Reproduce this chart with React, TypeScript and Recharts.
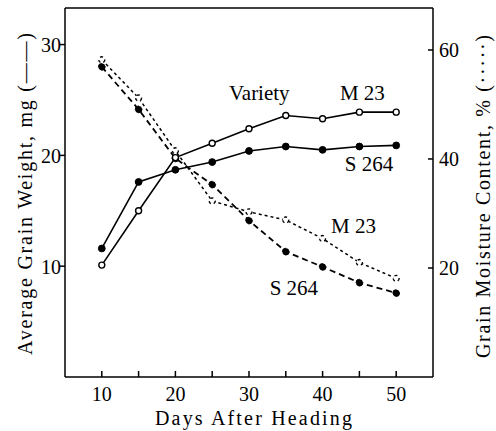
import React from "react";
import { LineChart, Line, XAxis, YAxis, ReferenceDot } from "recharts";

const days = [10, 15, 20, 25, 30, 35, 40, 45, 50];
const m23Weight = [10.1, 15.0, 19.8, 21.1, 22.4, 23.6, 23.3, 23.9, 23.9];
const s264Weight = [11.6, 17.6, 18.7, 19.4, 20.4, 20.8, 20.5, 20.8, 20.9];
const m23Moisture = [58.2, 51.2, 41.5, 32.3, 30.3, 28.8, 25.4, 21.0, 18.1];
const s264Moisture = [56.9, 49.1, 40.1, 35.3, 28.7, 23.0, 20.2, 17.3, 15.4];

const xTicks = [10, 15, 20, 25, 30, 35, 40, 45, 50];
const xTickLabels = ["10", "", "20", "", "30", "", "40", "", "50"];
const leftTicks = [10, 20, 30];
const rightTicks = [20, 40, 60];

const rows = days.map((d, i) => ({
  day: d,
  m23W: m23Weight[i],
  s264W: s264Weight[i],
  m23M: m23Moisture[i],
  s264M: s264Moisture[i],
}));

const FONT = "'Liberation Serif', 'DejaVu Serif', serif";

const XTick = (p: any) => {
  const { x, y, payload } = p;
  const idx = xTicks.indexOf(payload.value);
  const lab = idx >= 0 ? xTickLabels[idx] : "";
  return (
    <g>
      <line x1={x} y1={y} x2={x} y2={y - 6} stroke="#000" strokeWidth={1.5} />
      {lab && (
        <text x={x} y={y + 24} textAnchor="middle" fontFamily={FONT} fontSize={20} fill="#000">
          {lab}
        </text>
      )}
    </g>
  );
};

const LeftTick = (p: any) => {
  const { x, y, payload } = p;
  return (
    <g>
      <line x1={x - 5} y1={y} x2={x} y2={y} stroke="#000" strokeWidth={1.5} />
      <text x={x - 4} y={y + 7.5} textAnchor="end" fontFamily={FONT} fontSize={20} fill="#000">
        {payload.value}
      </text>
    </g>
  );
};

const RightTick = (p: any) => {
  const { x, y, payload } = p;
  return (
    <g>
      <line x1={x - 5} y1={y} x2={x} y2={y} stroke="#000" strokeWidth={1.5} />
      <text x={x + 6} y={y + 7.5} textAnchor="start" fontFamily={FONT} fontSize={20} fill="#000">
        {payload.value}
      </text>
    </g>
  );
};

const openDot = { r: 3, fill: "#fff", stroke: "#000", strokeWidth: 1.4 };
const filledDot = { r: 3.4, fill: "#000", stroke: "#000", strokeWidth: 1 };

const textLabel = (txt: string) => (props: any) => {
  const vb = props.viewBox || {};
  const cx = vb.cx !== undefined ? vb.cx : (vb.x || 0) + (vb.width || 0) / 2;
  const cy = vb.cy !== undefined ? vb.cy : (vb.y || 0) + (vb.height || 0) / 2;
  return (
    <text x={cx} y={cy} textAnchor="middle" fontFamily={FONT} fontSize={21} fill="#000">
      {txt}
    </text>
  );
};

const leftTitle = (props: any) => {
  const vb = props.viewBox || { x: 0, y: 8, width: 65, height: 369 };
  const cx = vb.x + 25;
  const cy = vb.y + vb.height / 2 + 1.5;
  return (
    <text
      x={cx}
      y={cy}
      transform={`rotate(-90, ${cx}, ${cy})`}
      textAnchor="middle"
      dominantBaseline="central"
      fontFamily={FONT}
      fontSize={20}
      fill="#000"
      textLength={322}
      lengthAdjust="spacing"
    >
      Average Grain Weight, mg (——)
    </text>
  );
};

const rightTitle = (props: any) => {
  const vb = props.viewBox || { x: 433, y: 8, width: 63, height: 369 };
  const cx = vb.x + 50;
  const cy = vb.y + vb.height / 2 + 4;
  return (
    <text
      x={cx}
      y={cy}
      transform={`rotate(-90, ${cx}, ${cy})`}
      textAnchor="middle"
      dominantBaseline="central"
      fontFamily={FONT}
      fontSize={20}
      fill="#000"
      textLength={323}
      lengthAdjust="spacing"
    >
      Grain Moisture Content, % (·····)
    </text>
  );
};

const bottomTitle = (props: any) => {
  const vb = props.viewBox || { x: 65, y: 377, width: 368, height: 54 };
  const cx = vb.x + vb.width / 2 + 4.5;
  const cy = vb.y + 48;
  return (
    <text
      x={cx}
      y={cy}
      textAnchor="middle"
      fontFamily={FONT}
      fontSize={20}
      fill="#000"
      textLength={197}
      lengthAdjust="spacing"
    >
      Days After Heading
    </text>
  );
};

export default function App() {
  return (
    <div style={{ position: "absolute", left: 0, top: 0, width: 496, height: 431, background: "#fff" }}>
      <LineChart width={496} height={431} data={rows} margin={{ top: 0, right: 0, bottom: 0, left: 0 }}>
        <XAxis
          xAxisId="top"
          orientation="top"
          dataKey="day"
          type="number"
          domain={[5, 55]}
          height={8}
          tick={false}
          tickLine={false}
          axisLine={{ stroke: "#000", strokeWidth: 1.5 }}
        />
        <XAxis
          dataKey="day"
          type="number"
          domain={[5, 55]}
          ticks={xTicks}
          height={54}
          tickSize={0}
          tickMargin={0}
          tickLine={false}
          tick={XTick}
          interval={0}
          axisLine={{ stroke: "#000", strokeWidth: 1.5 }}
          label={{ content: bottomTitle }}
        />
        <YAxis
          yAxisId="left"
          orientation="left"
          type="number"
          domain={[0, 33.3]}
          ticks={leftTicks}
          width={65}
          tickSize={0}
          tickMargin={0}
          tickLine={false}
          tick={LeftTick}
          interval={0}
          axisLine={{ stroke: "#000", strokeWidth: 1.5 }}
          label={{ content: leftTitle }}
        />
        <YAxis
          yAxisId="right"
          orientation="right"
          type="number"
          domain={[0, 67.7]}
          ticks={rightTicks}
          width={63}
          tickSize={0}
          tickMargin={0}
          tickLine={false}
          tick={RightTick}
          interval={0}
          axisLine={{ stroke: "#000", strokeWidth: 1.5 }}
          label={{ content: rightTitle }}
        />
        <Line
          yAxisId="right"
          dataKey="m23M"
          stroke="#000"
          strokeWidth={1.5}
          strokeDasharray="3 3"
          dot={openDot}
          isAnimationActive={false}
        />
        <Line
          yAxisId="right"
          dataKey="s264M"
          stroke="#000"
          strokeWidth={1.8}
          strokeDasharray="6 4"
          dot={filledDot}
          isAnimationActive={false}
        />
        <Line
          yAxisId="left"
          dataKey="m23W"
          stroke="#000"
          strokeWidth={1.6}
          dot={openDot}
          isAnimationActive={false}
        />
        <Line
          yAxisId="left"
          dataKey="s264W"
          stroke="#000"
          strokeWidth={1.6}
          dot={filledDot}
          isAnimationActive={false}
        />
        <ReferenceDot yAxisId="left" x={31.4} y={25.0} r={0} fill="none" stroke="none" label={{ content: textLabel("Variety") }} />
        <ReferenceDot yAxisId="left" x={45.4} y={25.0} r={0} fill="none" stroke="none" label={{ content: textLabel("M 23") }} />
        <ReferenceDot yAxisId="left" x={46.3} y={18.55} r={0} fill="none" stroke="none" label={{ content: textLabel("S 264") }} />
        <ReferenceDot yAxisId="left" x={44.2} y={13.0} r={0} fill="none" stroke="none" label={{ content: textLabel("M 23") }} />
        <ReferenceDot yAxisId="left" x={36.1} y={7.4} r={0} fill="none" stroke="none" label={{ content: textLabel("S 264") }} />
      </LineChart>
    </div>
  );
}
